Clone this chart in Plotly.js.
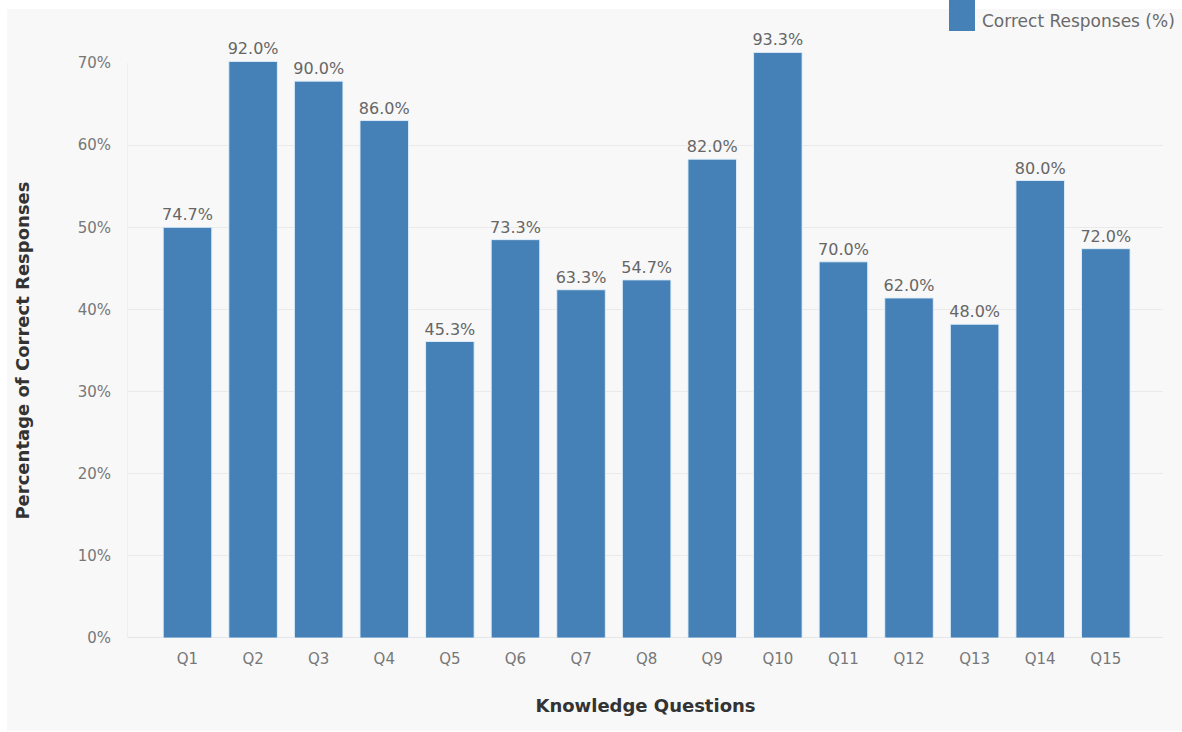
<!DOCTYPE html>
<html>
<head>
<meta charset="utf-8">
<script src="https://cdn.plot.ly/plotly-3.0.1.min.js"></script>
<style>
  html, body { margin: 0; padding: 0; background: #ffffff; }
  #chart { width: 1182px; height: 732px; }
</style>
</head>
<body>
<div id="chart"></div>
<script>
// ---- data ----
const categories = ["Q1","Q2","Q3","Q4","Q5","Q6","Q7","Q8","Q9","Q10","Q11","Q12","Q13","Q14","Q15"];
// bar heights as drawn (fraction of axis)
const barValues = [0.500, 0.702, 0.678, 0.630, 0.361, 0.485, 0.424, 0.436, 0.583, 0.713, 0.458, 0.414, 0.382, 0.557, 0.474];
// labels printed above the bars
const valueLabels = ["74.7%","92.0%","90.0%","86.0%","45.3%","73.3%","63.3%","54.7%","82.0%","93.3%","70.0%","62.0%","48.0%","80.0%","72.0%"];
const seriesName = "Correct Responses (%)";
const xTitle = "Knowledge Questions";
const yTitle = "Percentage of Correct Responses";
const yTickVals = [0, 0.1, 0.2, 0.3, 0.4, 0.5, 0.6, 0.7];

// ---- layout helpers ----
const W = 1182, H = 732;
const M = {l: 128, r: 19, t: 22, b: 94};
const PW = W - M.l - M.r, PH = H - M.t - M.b;
const px2x = p => (p - M.l) / PW;
const py2y = p => (H - M.b - p) / PH;

const FONT = "DejaVu Sans, Roboto, sans-serif";
const barColor = "#4580b6";
const yTop = 0.75;      // room above the axis for the tallest bars
const axisTop = 0.7;    // the visible axis ends at its top tick

// empty trace that carries the visible value axis (ends at 70%), drawn first
const axisCarrier = {type: "scatter", x: [], y: [], xaxis: "x", yaxis: "y", showlegend: false, hoverinfo: "skip"};
const bars = {
  type: "bar",
  x: categories,
  y: barValues,
  xaxis: "x", yaxis: "y2",
  name: seriesName,
  text: valueLabels,
  textposition: "outside",
  constraintext: "none",
  cliponaxis: false,
  textfont: {family: FONT, size: 16, color: "#666666"},
  marker: {color: barColor, line: {color: "rgba(225,240,252,0.9)", width: 1}},
  hoverinfo: "x+y",
  showlegend: false
};

const layout = {
  width: W, height: H,
  margin: M,
  paper_bgcolor: "#ffffff",
  plot_bgcolor: "rgba(0,0,0,0)",
  bargap: 0.26,
  font: {family: FONT, color: "#777777"},
  xaxis: {
    type: "category",
    categoryarray: categories,
    range: [-0.907, 14.872],
    anchor: "y",
    showgrid: false,
    zeroline: false,
    showline: false,
    ticks: "",
    tickfont: {family: FONT, size: 15, color: "#777777"},
    ticklabelstandoff: 10,
    title: {text: xTitle, font: {family: FONT, size: 18, color: "#333333", weight: "bold"}, standoff: 32},
    automargin: false,
    fixedrange: true
  },
  yaxis: {
    range: [0, axisTop],
    domain: [0, axisTop / yTop],
    tickvals: yTickVals,
    tickformat: ".0%",
    showgrid: true,
    gridcolor: "#eaeaea",
    gridwidth: 1,
    zeroline: true,
    zerolinecolor: "#e6e6e6",
    showline: true,
    linecolor: "#eeeeee",
    ticks: "",
    ticklabelstandoff: 13,
    tickfont: {family: FONT, size: 15, color: "#777777"},
    title: {text: yTitle, font: {family: FONT, size: 18, color: "#333333", weight: "bold"}, standoff: 43},
    automargin: false,
    fixedrange: true
  },
  yaxis2: {
    range: [0, yTop],
    domain: [0, 1],
    anchor: "x",
    showgrid: false,
    zeroline: false,
    showline: false,
    showticklabels: false,
    ticks: "",
    fixedrange: true
  },
  shapes: [
    {type: "rect", xref: "paper", yref: "paper", layer: "below",
     x0: px2x(7), x1: px2x(1190), y0: py2y(731), y1: py2y(9),
     fillcolor: "#f8f8f8", line: {width: 0}},
    {type: "rect", xref: "paper", yref: "paper", layer: "above",
     x0: px2x(949), x1: px2x(975), y0: py2y(31), y1: py2y(-2),
     fillcolor: barColor, line: {width: 0}}
  ],
  annotations: [
    {xref: "paper", yref: "paper", x: px2x(980), y: py2y(21),
     xanchor: "left", yanchor: "middle", showarrow: false,
     text: seriesName, font: {family: FONT, size: 17, color: "#6a6a6a"}}
  ],
  showlegend: false
};

Plotly.newPlot("chart", [axisCarrier, bars], layout, {displayModeBar: false, staticPlot: true});
</script>
</body>
</html>
